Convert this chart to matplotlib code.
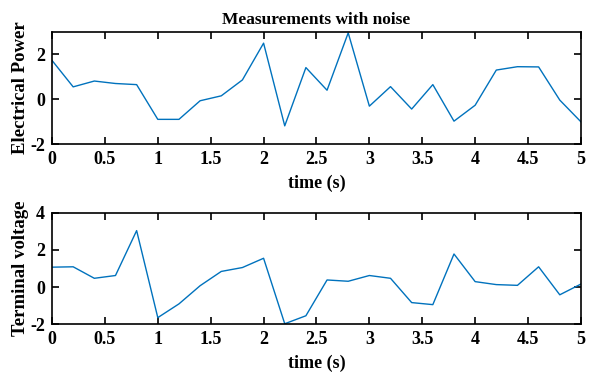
import matplotlib.pyplot as plt
import numpy as np

plt.rcParams['font.family'] = ['Liberation Serif', 'DejaVu Serif']
plt.rcParams['font.weight'] = 'bold'

############################## Datos leidos ##############################
t = [0.0, 0.2, 0.4, 0.6, 0.8, 1.0, 1.2, 1.4, 1.6, 1.8, 2.0, 2.2, 2.4,
     2.6, 2.8, 3.0, 3.2, 3.4, 3.6, 3.8, 4.0, 4.2, 4.4, 4.6, 4.8, 5.0]

power = [1.73, 0.55, 0.81, 0.70, 0.65, -0.90, -0.90, -0.07, 0.15, 0.86,
         2.50, -1.19, 1.41, 0.40, 2.96, -0.31, 0.56, -0.44, 0.65, -0.98,
         -0.27, 1.30, 1.45, 1.44, -0.04, -1.01]

voltage = [1.07, 1.09, 0.47, 0.62, 3.04, -1.65, -0.91, 0.07, 0.84, 1.05,
           1.55, -1.98, -1.55, 0.38, 0.31, 0.62, 0.47, -0.84, -0.95, 1.78,
           0.29, 0.13, 0.09, 1.09, -0.42, 0.16]

xticks = [0, 0.5, 1, 1.5, 2, 2.5, 3, 3.5, 4, 4.5, 5]
xticklabels = ['0', '0.5', '1', '1.5', '2', '2.5', '3', '3.5', '4', '4.5', '5']

###################### Figura ######################
fig = plt.figure(figsize=(5.89, 3.76), dpi=100)
ax1 = fig.add_axes([0.0883, 0.617, 0.898, 0.298])
ax2 = fig.add_axes([0.0883, 0.138, 0.898, 0.296])

color = '#0072BD'

def style(ax, yticks, ylim, ylabel):
     ax.set_xlim(0, 5)
     ax.set_ylim(*ylim)
     ax.set_xticks(xticks)
     ax.set_xticklabels(xticklabels)
     ax.set_yticks(yticks)
     ax.set_yticklabels([str(v) for v in yticks])
     ax.tick_params(direction='in', top=True, right=True, length=5,
                    width=1.2, labelsize=13, pad=5)
     for s in ax.spines.values():
          s.set_linewidth(1.2)
     ax.set_xlabel('time (s)', fontsize=13, fontweight='bold', labelpad=5)
     ax.set_ylabel(ylabel, fontsize=13.5, fontweight='bold')
     ax.yaxis.set_label_coords(-0.044, 0.5)

ax1.plot(t, power, color=color, lw=1.0)
style(ax1, [-2, 0, 2], (-2, 3), 'Electrical Power')
ax1.set_title('Measurements with noise', fontsize=12.5, fontweight='bold', pad=6)

ax2.plot(t, voltage, color=color, lw=1.0)
style(ax2, [-2, 0, 2, 4], (-2, 4), 'Terminal voltage')

fig.savefig('out.png', dpi=100)
